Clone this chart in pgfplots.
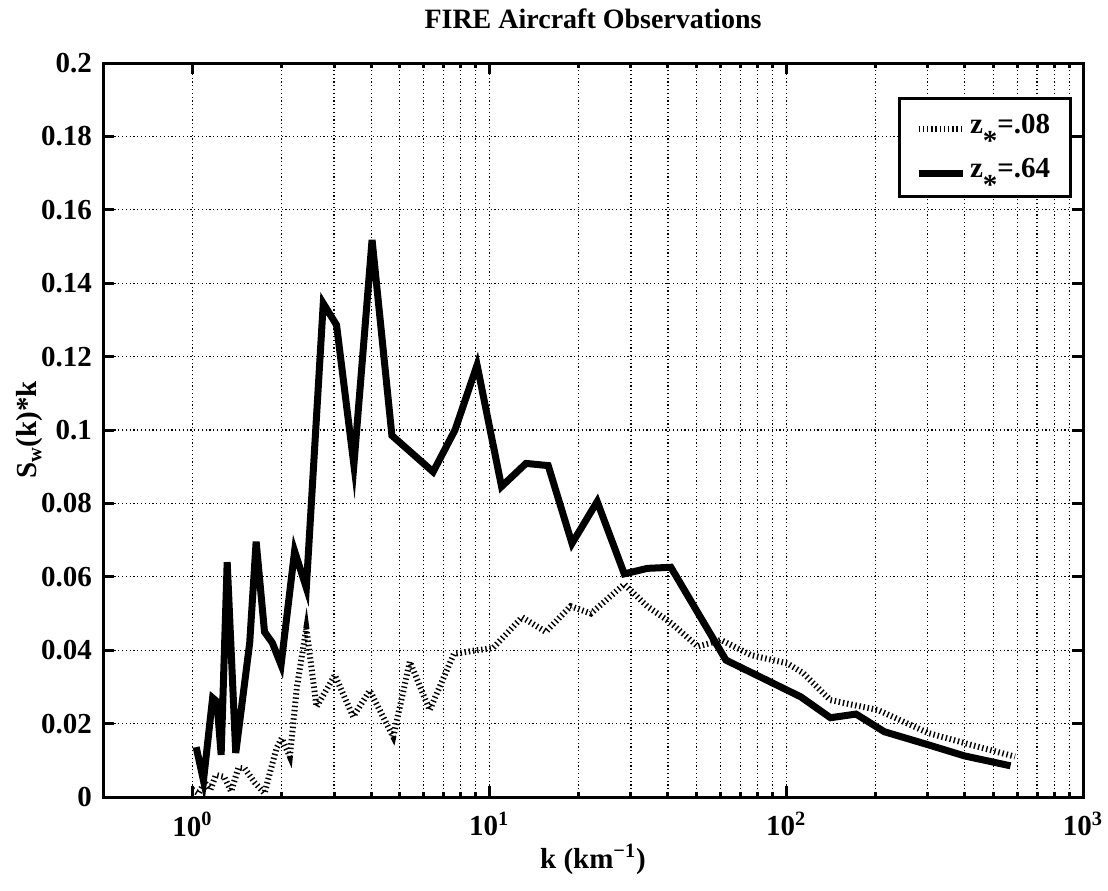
\documentclass[border=0pt]{standalone}
\usepackage{fontspec}
\setmainfont{Liberation Serif}
\usepackage{pgfplots}
\pgfplotsset{compat=1.18}
\begin{document}
\begin{tikzpicture}
\begin{axis}[
  scale only axis,
  width=490pt, height=367pt,
  xmode=log,
  xmin=0.5, xmax=1000,
  ymin=0, ymax=0.2,
  xtick={1,10,100,1000},
  xticklabels={10\textsuperscript{0},10\textsuperscript{1},10\textsuperscript{2},10\textsuperscript{3}},
  ytick={0,0.02,0.04,0.06,0.08,0.1,0.12,0.14,0.16,0.18,0.2},
  yticklabels={0,0.02,0.04,0.06,0.08,0.1,0.12,0.14,0.16,0.18,0.2},
  minor y tick num=0,
  tick align=inside,
  major tick length=5.5pt,
  minor tick length=2.5pt,
  every tick/.style={black, line width=1.5pt},
  axis line style={line width=1.5pt},
  xmajorgrids, xminorgrids, ymajorgrids,
  grid style={black, line width=0.6pt, dash pattern=on 0.6pt off 1.3pt},
  minor grid style={black, line width=0.6pt, dash pattern=on 0.6pt off 1.3pt},
  tick label style={font=\fontsize{14.5}{16}\selectfont\bfseries},
  xticklabel style={yshift=-4pt},
  yticklabel style={xshift=-2pt},
  title={FIRE Aircraft Observations},
  title style={at={(0.5,1)}, anchor=base, yshift=11pt, font=\fontsize{14}{16}\selectfont\bfseries},
  xlabel={k (km\textsuperscript{−1})},
  xlabel style={at={(0.5,0)}, anchor=base, yshift=-35.5pt, font=\fontsize{14.5}{16}\selectfont\bfseries},
  ylabel={S\textsubscript{w}(k)*k},
  ylabel style={at={(-0.0745,0.5)}, anchor=center, font=\fontsize{14.5}{16}\selectfont\bfseries},
  legend style={at={(0.9885,0.954)}, anchor=north east, draw=black, line width=1.5pt, fill=white,
    font=\fontsize{14.5}{16}\selectfont\bfseries, inner xsep=8pt, inner ysep=6pt, row sep=7pt},
  legend cell align=left,
  legend image code/.code={\draw[#1] (0pt,-2pt) -- (22pt,-2pt);},
]
\addplot[black, line width=3pt, line cap=butt, line join=miter, dash pattern=on 0.7pt off 1.4pt] coordinates {
(1.00,0.002) (1.05,0.001) (1.10,0.004) (1.15,0.002) (1.20,0.006) (1.28,0.0055)
(1.35,0.0015) (1.43,0.008) (1.50,0.0078) (1.62,0.004) (1.75,0.001) (1.92,0.0133)
(2.00,0.016) (2.13,0.011) (2.25,0.030) (2.42,0.046) (2.62,0.0246) (3.02,0.0332)
(3.48,0.0219) (3.96,0.029) (4.75,0.0164) (5.40,0.0369) (6.30,0.0237) (7.60,0.039)
(9.10,0.040) (10.3,0.0406) (12.9,0.049) (15.5,0.045) (18.8,0.052) (22.0,0.050)
(28.5,0.058) (34,0.052) (41,0.0474) (50.4,0.041) (60.3,0.0428) (76,0.0387)
(101,0.0364) (114,0.0338) (141,0.0264) (204,0.0237) (302,0.0174) (399,0.0147) (590,0.011)
};
\addlegendentry{z\raisebox{-8.5pt}{*}=.08}
\addplot[black, line width=3.5pt, line join=miter] coordinates {
(1.03,0.0136) (1.09,0.0045) (1.17,0.027) (1.21,0.026) (1.25,0.0115) (1.31,0.064)
(1.40,0.012) (1.56,0.042) (1.64,0.0696) (1.75,0.045) (1.86,0.042) (1.99,0.036)
(2.21,0.067) (2.42,0.057) (2.76,0.1345) (3.06,0.1286) (3.50,0.0905) (4.03,0.1518)
(4.70,0.0985) (6.47,0.0886) (7.67,0.100) (9.10,0.1177) (11.0,0.0846) (13.3,0.0909)
(15.8,0.0903) (19.0,0.0691) (23.1,0.0805) (28.5,0.0608) (34.1,0.0623) (40.9,0.0626)
(62.7,0.0373) (112,0.0273) (141,0.0216) (172,0.0226) (214,0.0178) (302,0.0142)
(399,0.0112) (570,0.0085)
};
\addlegendentry{z\raisebox{-8.5pt}{*}=.64}
\end{axis}
\pgfresetboundingbox
\path[use as bounding box] ([xshift=-51.5pt,yshift=-46.5pt]current axis.south west) rectangle ([xshift=12.5pt,yshift=31.5pt]current axis.north east);
\end{tikzpicture}
\end{document}
